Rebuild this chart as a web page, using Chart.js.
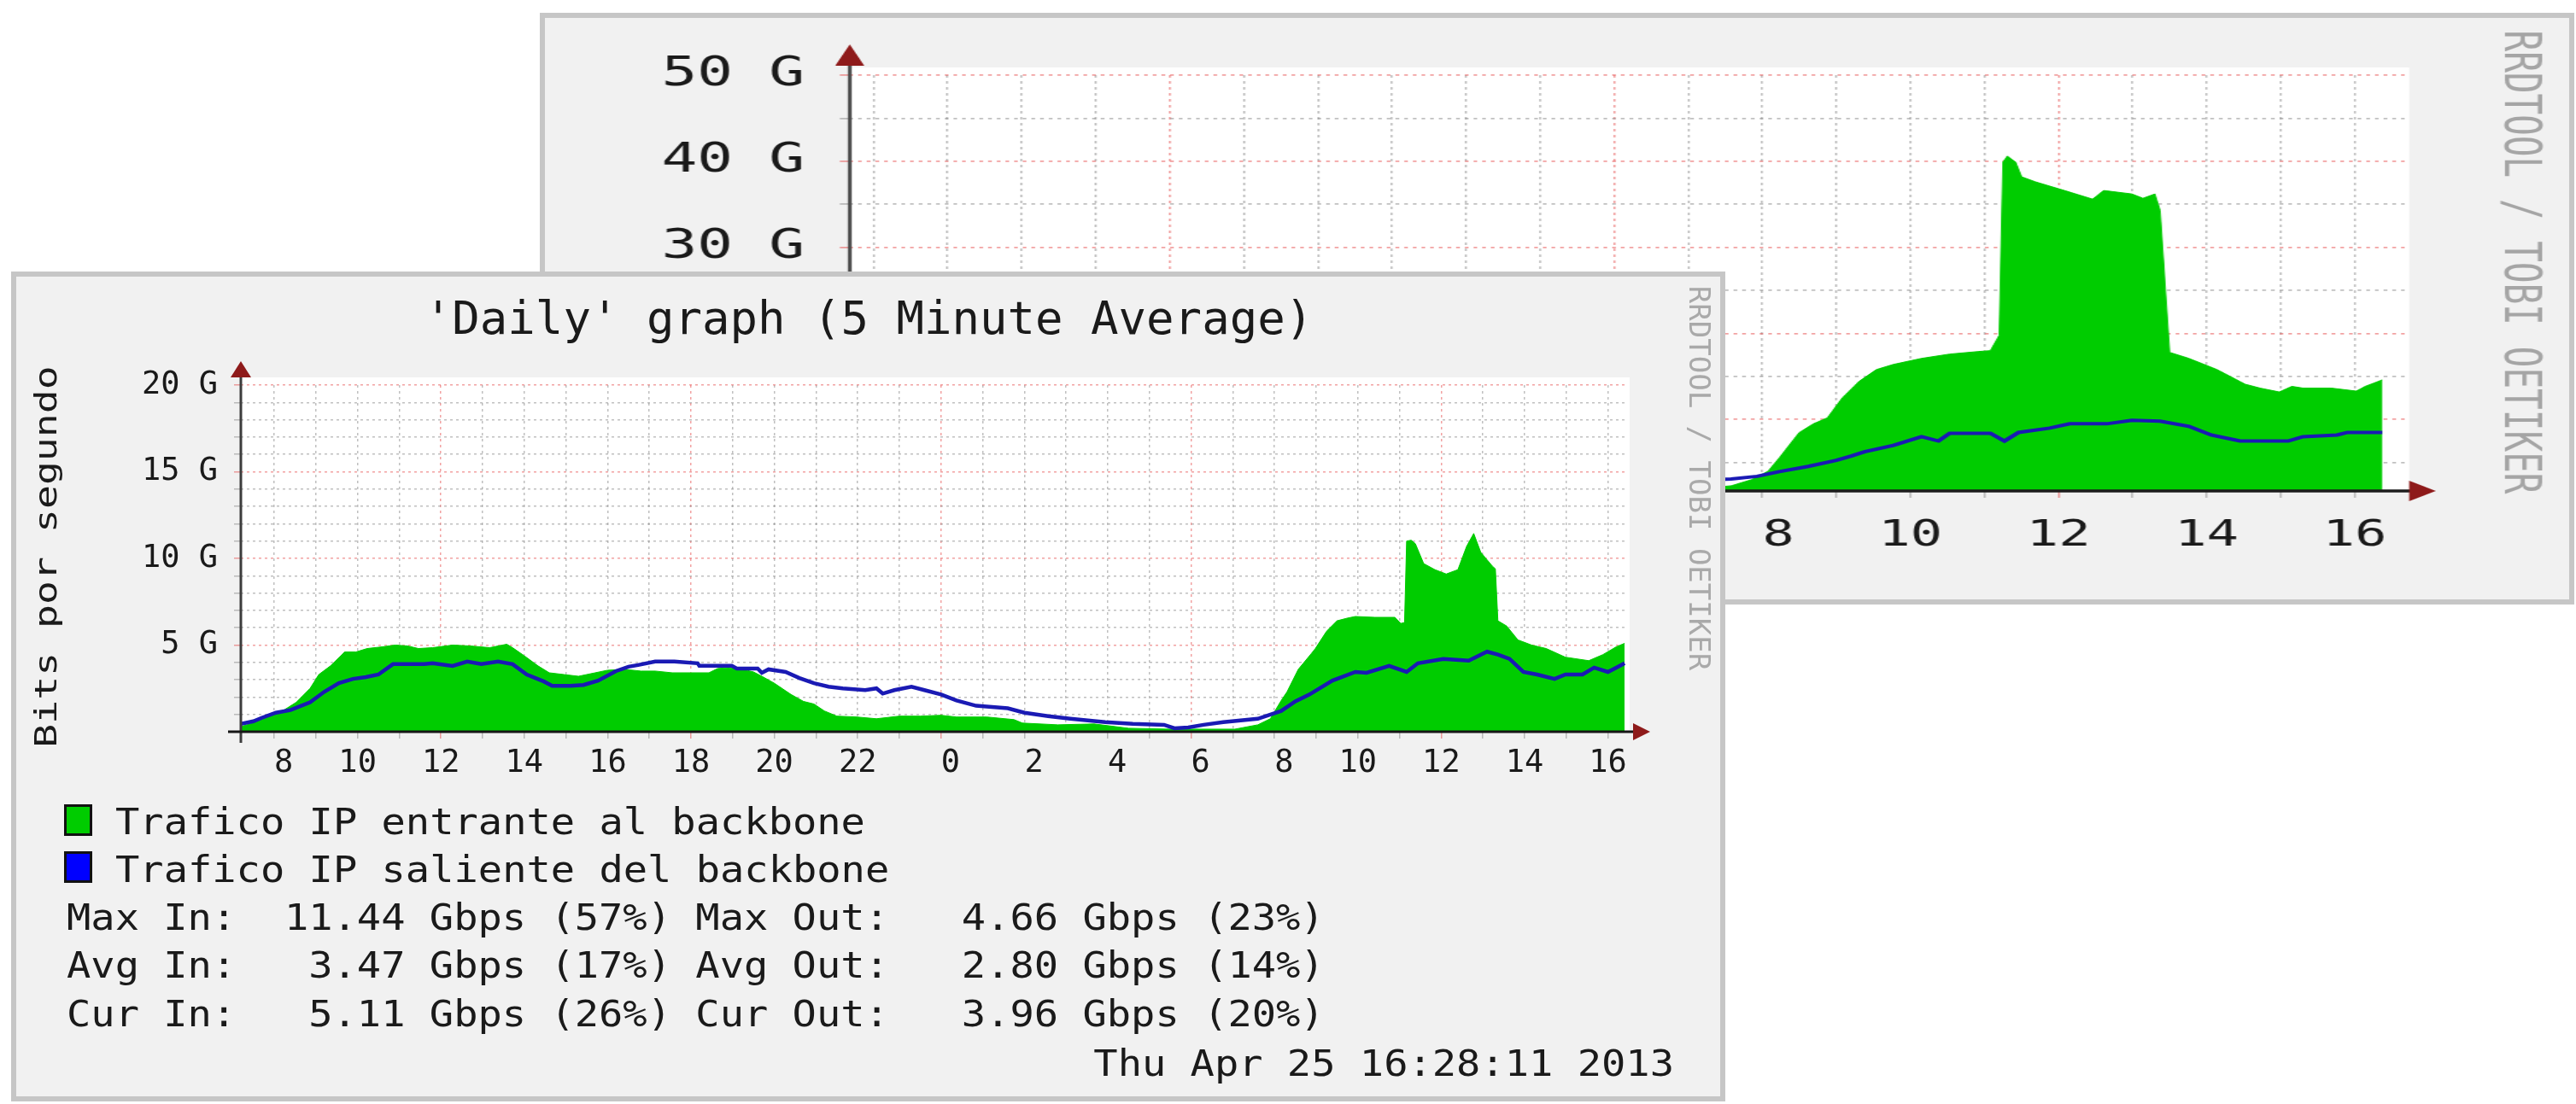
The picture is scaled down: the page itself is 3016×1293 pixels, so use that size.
<!DOCTYPE html>
<html>
<head>
<meta charset="utf-8">
<title>Daily graph (5 Minute Average)</title>
<script src="https://cdn.jsdelivr.net/npm/chart.js@4.4.1/dist/chart.umd.min.js"></script>
<style>
  html, body { margin: 0; padding: 0; background: #fff; width: 3016px; height: 1293px; overflow: hidden; }
  .panel { position: absolute; box-sizing: border-box; background: #f1f1f1; border: 6px solid #c6c6c6; }
  .chartbox { position: absolute; }
  #backPanel { left: 632px; top: 15px; width: 2382px; height: 693px; z-index: 1; }
  #backBox { left: 632px; top: 15px; width: 1643px; height: 693px; transform: scaleX(1.4498); transform-origin: 0 0; z-index: 2; }
  #frontPanel { left: 13px; top: 318px; width: 2007px; height: 972px; z-index: 3; }
  #frontBox { left: 13px; top: 318px; width: 2007px; height: 972px; z-index: 4; }
</style>
</head>
<body>
<div id="backPanel" class="panel"></div>
<div id="backBox" class="chartbox"><canvas id="back"></canvas></div>
<div id="frontPanel" class="panel"></div>
<div id="frontBox" class="chartbox"><canvas id="front"></canvas></div>
<script>
// hours counted from 00:00 of the first day, traffic in Gbit/s

// front graph, incoming (green area)
const inHours = [7.2,7.5,7.7,8.0,8.2,8.53,8.86,9.07,9.35,9.69,
  9.96,10.23,10.6,10.9,11.2,11.46,11.8,12.28,12.7,13.17,
  13.58,13.72,13.99,14.33,14.6,14.95,15.3,15.7,16.0,16.4,
  16.8,17.14,17.55,18.0,18.43,18.64,18.9,19.25,19.5,19.7,
  20.0,20.4,20.7,20.95,21.2,21.5,21.98,22.45,23.0,23.5,
  24.0,24.37,25.1,25.75,25.95,26.8,27.67,28.5,29.5,30.5,
  31.05,31.6,31.9,32.16,32.3,32.57,32.88,32.98,33.25,33.5,
  33.74,33.94,34.41,34.89,35.03,35.12,35.17,35.28,35.38,35.58,
  35.85,36.12,36.4,36.61,36.78,36.95,37.23,37.3,37.36,37.57,
  37.84,38.17,38.52,38.98,39.54,39.88,40.2,40.4];
const inGbps = [0.3,0.5,0.7,1.0,1.2,1.7,2.5,3.3,3.8,4.6,
  4.6,4.8,4.9,5.0,4.95,4.8,4.85,5.0,4.95,4.85,
  5.05,4.85,4.4,3.8,3.4,3.3,3.2,3.4,3.55,3.6,
  3.5,3.5,3.4,3.4,3.4,3.65,3.7,3.6,3.45,3.2,
  2.8,2.15,1.75,1.6,1.2,0.9,0.85,0.75,0.9,0.9,
  0.95,0.85,0.85,0.7,0.5,0.4,0.45,0.2,0.15,0.15,
  0.15,0.4,0.75,1.8,2.3,3.6,4.5,4.8,5.8,6.4,
  6.55,6.65,6.6,6.6,6.25,6.3,11.0,11.05,10.85,9.7,
  9.35,9.1,9.35,10.7,11.44,10.35,9.55,9.4,6.4,6.1,
  5.3,5.0,4.8,4.3,4.1,4.45,4.9,5.1];

// front graph, outgoing (blue line)
const outHours = [7.2,7.5,7.7,8.04,8.39,8.86,9.2,9.55,9.89,10.2,
  10.5,10.85,11.2,11.6,11.8,12.28,12.63,12.97,13.37,13.72,
  14.06,14.47,14.67,15.1,15.42,15.77,16.2,16.5,16.73,17.14,
  17.6,18.16,18.2,18.98,19.1,19.6,19.7,19.86,20.27,20.6,
  20.95,21.3,21.64,22.18,22.45,22.6,22.88,23.29,23.6,24.0,
  24.37,24.84,25.6,26.0,26.57,27.1,27.94,28.6,29.35,29.6,
  29.93,30.3,30.77,31.6,32.04,32.16,32.5,32.84,33.39,33.94,
  34.21,34.75,35.17,35.44,36.05,36.66,36.95,37.1,37.36,37.64,
  37.97,38.3,38.72,38.98,39.39,39.67,40.0,40.2,40.4];
const outGbps = [0.45,0.6,0.8,1.1,1.25,1.7,2.3,2.8,3.05,3.15,
  3.3,3.9,3.9,3.9,3.95,3.8,4.05,3.9,4.05,3.9,
  3.3,2.9,2.65,2.65,2.7,2.95,3.5,3.75,3.85,4.05,
  4.05,3.95,3.8,3.8,3.65,3.65,3.4,3.6,3.45,3.1,
  2.8,2.6,2.5,2.4,2.5,2.2,2.4,2.6,2.4,2.15,
  1.8,1.5,1.35,1.1,0.9,0.75,0.55,0.45,0.4,0.2,
  0.25,0.4,0.55,0.75,1.1,1.2,1.75,2.15,2.95,3.45,
  3.4,3.8,3.45,3.95,4.2,4.1,4.45,4.62,4.45,4.2,
  3.45,3.3,3.05,3.3,3.3,3.7,3.45,3.7,3.95];

// back graph (only its right part shows)
const backInHours = [31.0,31.58,31.85,32.08,32.23,32.5,32.69,32.88,33.08,33.31,
  33.54,33.77,34.15,34.53,34.92,35.08,35.2,35.25,35.31,35.42,
  35.5,35.69,36.08,36.46,36.61,36.99,37.14,37.3,37.37,37.5,
  37.76,38.14,38.52,38.72,38.98,39.15,39.3,39.68,40.02,40.14,40.37];
const backInGbps = [1.9,2.3,3.0,4.0,5.55,8.5,9.5,10.2,12.5,14.45,
  15.8,16.4,17.1,17.6,17.9,18.0,19.8,39.9,40.6,39.9,
  38.2,37.6,36.6,35.6,36.6,36.2,35.7,36.2,34.3,17.8,
  17.1,15.8,14.1,13.65,13.2,13.85,13.65,13.65,13.3,13.85,14.6];
const backOutHours = [31.0,31.58,31.93,32.23,32.62,33.0,33.2,33.38,33.77,34.15,
  34.38,34.53,35.08,35.27,35.46,35.88,36.15,36.65,36.99,37.37,
  37.76,38.06,38.45,39.1,39.3,39.76,39.9,40.37];
const backOutGbps = [2.9,3.1,3.4,3.95,4.55,5.25,5.75,6.25,7.0,8.0,
  7.5,8.4,8.4,7.5,8.5,9.0,9.5,9.5,9.9,9.8,
  9.2,8.2,7.5,7.5,8.0,8.2,8.5,8.5];

// tick labels (single digits sit a little right of their grid line, as in rrdtool)
const hourLabelValues = [8,10,12,14,16,18,20,22,24,26,28,30,32,34,36,38,40];
const hourLabels = [' 8','10','12','14','16','18','20','22',' 0',' 2',' 4',' 6',' 8','10','12','14','16'];
const frontYLabelValues = [5,10,15,20];
const frontYLabels = ['5 G','10 G','15 G','20 G'];
const backYLabelValues = [10,20,30,40,50];
const backYLabels = ['10 G','20 G','30 G','40 G','50 G'];

// texts
const titleText = "'Daily' graph (5 Minute Average)";
const yTitle = 'Bits por segundo';
const watermark = 'RRDTOOL / TOBI OETIKER';
const legendNames = ['Trafico IP entrante al backbone', 'Trafico IP saliente del backbone'];
const statNames = ['Max', 'Avg', 'Cur'];
const statIn = ['11.44', '3.47', '5.11'];
const statInPct = ['57', '17', '26'];
const statOut = ['4.66', '2.80', '3.96'];
const statOutPct = ['23', '14', '20'];
const stampText = 'Thu Apr 25 16:28:11 2013';

const MONO = '"DejaVu Sans Mono", monospace';
Chart.defaults.font.family = MONO;
Chart.defaults.color = '#1a1a1a';

const MINOR = 'rgba(140,140,140,0.55)';
const MAJOR = 'rgba(230,70,70,0.5)';
const GREEN = '#00cc00';
const BLUE = '#0000ff';
const BLUE_LINE = '#1a1ab4';
const ARROW = '#8e1a1a';

function pts(xs, ys) { return xs.map((x, i) => ({ x: x, y: ys[i] })); }
function lookup(vals, labels) {
  return v => { const i = vals.indexOf(v); return i < 0 ? '' : labels[i]; };
}
function tickValue(c) { return c.tick ? c.tick.value : NaN; }
function pad(s, n) { while (s.length < n) s = ' ' + s; return s; }

function line(ctx, x1, y1, x2, y2) { ctx.beginPath(); ctx.moveTo(x1, y1); ctx.lineTo(x2, y2); ctx.stroke(); }
function tri(ctx, p) {
  ctx.beginPath(); ctx.moveTo(p[0], p[1]); ctx.lineTo(p[2], p[3]); ctx.lineTo(p[4], p[5]);
  ctx.closePath(); ctx.fill();
}
function stretchText(ctx, text, x, y, size, sx, align, color) {
  ctx.save();
  ctx.font = size + 'px ' + MONO;
  ctx.fillStyle = color || '#1a1a1a';
  ctx.textBaseline = 'alphabetic';
  ctx.textAlign = 'left';
  const w = ctx.measureText(text).width * sx;
  const x0 = align === 'right' ? x - w : align === 'center' ? x - w / 2 : x;
  ctx.translate(x0, y);
  ctx.scale(sx, 1);
  ctx.fillText(text, 0, 0);
  ctx.restore();
}
function rotatedText(ctx, text, cx, cy, angle, size, sx, color) {
  ctx.save();
  ctx.font = size + 'px ' + MONO;
  ctx.fillStyle = color;
  ctx.textAlign = 'center';
  ctx.textBaseline = 'alphabetic';
  ctx.translate(cx, cy);
  ctx.rotate(angle);
  ctx.scale(sx, 1);
  ctx.fillText(text, 0, 0);
  ctx.restore();
}

const whitePlot = {
  id: 'whitePlot',
  beforeDraw(chart) {
    const { ctx, chartArea: a } = chart;
    ctx.save();
    ctx.fillStyle = '#ffffff';
    ctx.fillRect(a.left, a.top - 9, a.right - a.left + 2, a.bottom - a.top + 9);
    ctx.restore();
  }
};

const frontDecor = {
  id: 'frontDecor',
  afterDraw(chart) {
    const { ctx, chartArea: a } = chart;
    ctx.save();
    ctx.lineWidth = 3;
    ctx.strokeStyle = '#3d3d3d';
    line(ctx, a.left, a.top - 10, a.left, a.bottom + 13);
    ctx.strokeStyle = '#161616';
    line(ctx, a.left - 15, a.bottom, a.right + 7, a.bottom);
    ctx.fillStyle = ARROW;
    tri(ctx, [a.left, a.top - 28, a.left - 12, a.top - 9, a.left + 12, a.top - 9]);
    tri(ctx, [a.right + 26, a.bottom, a.right + 6, a.bottom - 10, a.right + 6, a.bottom + 10]);
    ctx.restore();

    stretchText(ctx, titleText, 1004, 73, 54, 1, 'center');
    rotatedText(ctx, yTitle, 53, 334, -Math.PI / 2, 36, 1.29, '#1a1a1a');
    rotatedText(ctx, watermark, 1965, 242, Math.PI / 2, 34, 1, '#a9a9a9');

    // legend boxes
    const boxColors = [GREEN, BLUE];
    const boxTops = [624, 679];
    const textBase = [659, 715];
    ctx.save();
    boxColors.forEach((c, i) => {
      ctx.fillStyle = c;
      ctx.fillRect(62, boxTops[i], 33, 37);
      ctx.strokeStyle = '#111';
      ctx.lineWidth = 3;
      ctx.strokeRect(63.5, boxTops[i] + 1.5, 30, 34);
    });
    ctx.restore();
    legendNames.forEach((t, i) => stretchText(ctx, t, 122, textBase[i], 42, 1.12, 'left'));

    const statBase = [771, 827, 884];
    statNames.forEach((n, i) => {
      const s = n + ' In: ' + pad(statIn[i], 6) + ' Gbps (' + statInPct[i] + '%) ' +
                n + ' Out:' + pad(statOut[i], 7) + ' Gbps (' + statOutPct[i] + '%)';
      stretchText(ctx, s, 65, statBase[i], 42, 1.12, 'left');
    });
    stretchText(ctx, stampText, 1947, 942, 42, 1.12, 'right');
  }
};

const backDecor = {
  id: 'backDecor',
  afterDraw(chart) {
    const { ctx, chartArea: a } = chart;
    ctx.save();
    ctx.lineWidth = 3;
    ctx.strokeStyle = '#4a4a4a';
    line(ctx, a.left, a.top - 11, a.left, a.bottom + 8);
    ctx.lineWidth = 3.5;
    ctx.strokeStyle = '#1c1c1c';
    line(ctx, a.left - 8, a.bottom, a.right + 3, a.bottom);
    ctx.fillStyle = ARROW;
    tri(ctx, [a.left, a.top - 36, a.left - 11.7, a.top - 11, a.left + 11.7, a.top - 11]);
    tri(ctx, [a.right + 23.5, a.bottom, a.right + 2, a.bottom - 12, a.right + 2, a.bottom + 12]);
    ctx.restore();
    rotatedText(ctx, watermark, 1587, 292, Math.PI / 2, 41, 1, '#a5a5a5');
  }
};

function gridOpts(isMajor, width) {
  return {
    color: c => isMajor(tickValue(c)) ? MAJOR : MINOR,
    lineWidth: width,
    tickLength: 8
  };
}

new Chart(document.getElementById('back'), {
  type: 'line',
  data: {
    datasets: [
      { label: legendNames[1], data: pts(backOutHours, backOutGbps), borderColor: BLUE_LINE,
        borderWidth: 4, pointRadius: 0, fill: false, order: 0 },
      { label: legendNames[0], data: pts(backInHours, backInGbps), borderColor: GREEN,
        backgroundColor: GREEN, borderWidth: 1, pointRadius: 0, fill: 'origin', order: 1 }
    ]
  },
  options: {
    responsive: true,
    maintainAspectRatio: false,
    animation: false,
    events: [],
    layout: { padding: { left: 0, top: 73, right: 135.4, bottom: 0 } },
    plugins: { legend: { display: false }, tooltip: { enabled: false } },
    scales: {
      x: {
        type: 'linear', min: 19.68, max: 40.70,
        afterFit: s => { s.height = 133; },
        ticks: { stepSize: 1, includeBounds: false, autoSkip: false, maxRotation: 0, minRotation: 0, padding: 19,
                 font: { size: 43 }, callback: lookup(hourLabelValues, hourLabels) },
        grid: gridOpts(v => v % 6 === 0, 1.6),
        border: { display: false, dash: [3, 4] }
      },
      y: {
        type: 'linear', min: 1.7, max: 50,
        afterFit: s => { s.width = 250.3; },
        ticks: { stepSize: 5, includeBounds: false, autoSkip: false, padding: 28.5,
                 font: { size: 48 }, callback: lookup(backYLabelValues, backYLabels) },
        grid: gridOpts(v => v % 10 === 0, 1.8),
        border: { display: false, dash: [3, 4] }
      }
    }
  },
  plugins: [whitePlot, backDecor]
});

new Chart(document.getElementById('front'), {
  type: 'line',
  data: {
    datasets: [
      { label: legendNames[1], data: pts(outHours, outGbps), borderColor: BLUE_LINE,
        borderWidth: 4.5, pointRadius: 0, fill: false, order: 0 },
      { label: legendNames[0], data: pts(inHours, inGbps), borderColor: GREEN,
        backgroundColor: GREEN, borderWidth: 1, pointRadius: 0, fill: 'origin', order: 1 }
    ]
  },
  options: {
    responsive: true,
    maintainAspectRatio: false,
    animation: false,
    events: [],
    layout: { padding: { left: 0, top: 133, right: 114, bottom: 0 } },
    plugins: { legend: { display: false }, tooltip: { enabled: false } },
    scales: {
      x: {
        type: 'linear', min: 7.2, max: 40.48,
        afterFit: s => { s.height = 433; },
        ticks: { stepSize: 1, includeBounds: false, autoSkip: false, maxRotation: 0, minRotation: 0, padding: 7,
                 font: { size: 37 }, callback: lookup(hourLabelValues, hourLabels) },
        grid: gridOpts(v => v % 6 === 0, 1.5),
        border: { display: false, dash: [3, 4] }
      },
      y: {
        type: 'linear', min: 0, max: 20,
        afterFit: s => { s.width = 269; },
        ticks: { stepSize: 1, includeBounds: false, autoSkip: false, padding: 19,
                 font: { size: 37 }, callback: lookup(frontYLabelValues, frontYLabels) },
        grid: gridOpts(v => v % 5 === 0, 1.5),
        border: { display: false, dash: [3, 4] }
      }
    }
  },
  plugins: [whitePlot, frontDecor]
});
</script>
</body>
</html>
